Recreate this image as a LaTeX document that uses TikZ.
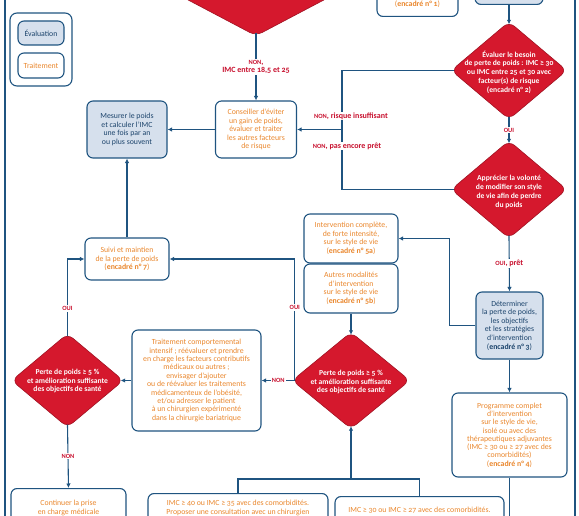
\documentclass[tikz,border=0pt]{standalone}
\usepackage{fontspec}
\setmainfont{Carlito}[Numbers=OldStyle]
\usetikzlibrary{arrows.meta, shapes.geometric}

\definecolor{ligne}{RGB}{31,84,128}
\definecolor{fondbleu}{RGB}{214,224,237}
\definecolor{rougedia}{RGB}{213,24,45}
\definecolor{orangetxt}{RGB}{234,135,45}
\definecolor{rougelbl}{RGB}{200,16,46}
\definecolor{bleutxt}{RGB}{28,68,108}

\newcommand{\petcap}[1]{{\fontsize{6.4}{7}\selectfont #1}}

\begin{document}
\begin{tikzpicture}[x=1pt, y=-1pt, >={Latex[length=4.5pt, width=4.5pt]},
  every node/.style={font=\fontsize{7.8}{8.6}\selectfont, align=center},
  boite/.style={draw=ligne, line width=1.1pt, rounded corners=6pt, inner sep=3pt},
  evalbox/.style={boite, fill=fondbleu, text=bleutxt},
  traitbox/.style={boite, fill=white, text=orangetxt},
  decision/.style={diamond, draw=rougedia!75!black, line width=0.6pt, fill=rougedia,
    rounded corners=7pt, inner sep=0pt, outer sep=-1.8pt},
  dectext/.style={text=white, font=\fontsize{7.6}{8.8}\selectfont\bfseries},
  lbl/.style={text=rougelbl, fill=white, inner sep=1pt, font=\fontsize{8}{8.6}\selectfont\bfseries},
  fleche/.style={draw=ligne, line width=1.1pt}]
  \useasboundingbox (0,0) rectangle (579,516);
  \clip (0,0) rectangle (579,516);

  % cadre
  \draw[fleche] (5,-5) -- (5,525);
  \draw[fleche] (575,-5) -- (575,525);

  % legende
  \node[draw=ligne, line width=1.1pt, rounded corners=7pt, minimum width=62pt, minimum height=73pt] (legende) at (41,49.5) {};
  \node[evalbox, minimum width=46pt, minimum height=24pt] (leg-eval) at (41,33) {Évaluation};
  \node[traitbox, minimum width=46pt, minimum height=25pt] (leg-trait) at (41,65.5) {Traitement};

  % haut (coupe)
  \node[decision, minimum width=210pt, minimum height=110pt] (imc) at (256,-20) {};
  \node[traitbox, anchor=south, minimum width=81pt, text height=30pt, text depth=7pt] (encadre1) at (417.5,17) {(\textbf{encadré n° 1})};
  \node[evalbox, anchor=south, minimum width=68pt, minimum height=30pt] (evalhaut) at (509,5) {};

  % colonne de droite
  \node[decision, minimum width=114pt, minimum height=96pt] (besoin) at (509,70.5) {};
  \node[dectext] (besoin-t) at (509,72) {Évaluer le besoin\\de perte de poids : IMC ≥ 30\\ou IMC entre 25 et 30 avec\\facteur(s) de risque\\(encadré n° 2)};
  \node[decision, minimum width=114pt, minimum height=96pt] (apprec) at (509,189.5) {};
  \node[dectext] (apprec-t) at (509,192) {Apprécier la volonté\\de modifier son style\\de vie afin de perdre\\du poids};
  \node[evalbox, minimum width=67pt, minimum height=67pt] (determ) at (509.5,325.5) {Déterminer\\la perte de poids,\\les objectifs\\et les stratégies\\d’intervention\\(\textbf{encadré n° 3})};
  \node[traitbox, minimum width=115pt, minimum height=84pt, font=\fontsize{7.8}{8.3}\selectfont] (programme) at (509.5,435) {Programme complet\\d’intervention\\sur le style de vie,\\isolé ou avec des\\thérapeutiques adjuvantes\\(IMC ≥ 30 ou ≥ 27 avec des\\comorbidités)\\(\textbf{encadré n° 4})};

  % milieu
  \node[traitbox, minimum width=81pt, minimum height=57pt] (conseil) at (256,129.5) {Conseiller d’éviter\\un gain de poids,\\évaluer et traiter\\les autres facteurs\\de risque};
  \node[evalbox, minimum width=80pt, minimum height=57pt] (mesure) at (127,129.5) {Mesurer le poids\\et calculer l’IMC\\une fois par an\\ou plus souvent};
  \node[traitbox, minimum width=84pt, minimum height=42pt] (suivi) at (127,259) {Suivi et maintien\\de la perte de poids\\(\textbf{encadré n° 7})};
  \node[traitbox, minimum width=94pt, minimum height=49pt] (int5a) at (351,238.5) {Intervention complète,\\de forte intensité,\\sur le style de vie\\(\textbf{encadré n° 5a})};
  \node[traitbox, minimum width=94pt, minimum height=49pt] (int5b) at (351,288.5) {Autres modalités\\d’intervention\\sur le style de vie\\(\textbf{encadré n° 5b})};
  \node[decision, minimum width=116pt, minimum height=95pt] (perte2) at (351,380.5) {};
  \node[dectext] (perte2-t) at (351,382) {Perte de poids ≥ 5 \%\\et amélioration suffisante\\des objectifs de santé};
  \node[traitbox, minimum width=129pt, minimum height=101pt, font=\fontsize{7.8}{8.4}\selectfont] (traitcomp) at (196.5,380.5) {Traitement comportemental\\intensif ; réévaluer et prendre\\en charge les facteurs contributifs\\médicaux ou autres ;\\envisager d’ajouter\\ou de réévaluer les traitements\\médicamenteux de l’obésité,\\et/ou adresser le patient\\à un chirurgien expérimenté\\dans la chirurgie bariatrique};
  \node[decision, minimum width=110pt, minimum height=92pt] (perte1) at (67.5,380.5) {};
  \node[dectext] (perte1-t) at (67.5,381) {Perte de poids ≥ 5 \%\\et amélioration suffisante\\des objectifs de santé};

  % bas (coupe)
  \node[traitbox, anchor=north, minimum width=115pt, text height=23pt, text depth=40pt] (continuer) at (68.5,488) {Continuer la prise\\en charge médicale};
  \node[traitbox, anchor=north, minimum width=180pt, text height=18pt, text depth=40pt] (bas1) at (238,493) {IMC ≥ 40 ou IMC ≥ 35 avec des comorbidités.\\Proposer une consultation avec un chirurgien};
  \node[traitbox, anchor=north, minimum width=169pt, text height=12.5pt, text depth=40pt] (bas2) at (419.5,496) {IMC ≥ 30 ou IMC ≥ 27 avec des comorbidités.};

  \coordinate (jct) at (342,129.5);
  \coordinate (jct-bas) at (351,479);
  \coordinate (prog-bas) at (509.5,530);

  % fleches
  \draw[fleche, ->] (evalhaut.south) -- (besoin.north);
  \draw[fleche, ->] (imc.south) -- node[lbl] {\petcap{NON},\\IMC entre 18,5 et 25} (conseil.north);
  \draw[fleche, ->] (besoin.south) -- node[lbl] {\petcap{OUI}} (apprec.north);
  \draw[fleche, ->] (apprec.south) -- node[lbl] {\petcap{OUI}, prêt} (determ.north);
  \draw[fleche, ->] (determ.south) -- (programme.north);
  \draw[fleche] (programme.south) -- (prog-bas);
  \draw[fleche, ->] (besoin.west) -| (jct) -- (conseil.east);
  \draw[fleche] (apprec.west) -| (jct);
  \draw[fleche, ->] (conseil.west) -- (mesure.east);
  \draw[fleche, ->] (suivi.north) -- (mesure.south);
  \draw[fleche, ->] (determ.west) -- ++(-26,0) |- (int5a.east);
  \draw[fleche, ->] (int5b.south) -- (perte2.north);
  \draw[fleche, ->] (perte2.west) |- node[lbl, pos=0.3] {\petcap{OUI}} (suivi.east);
  \draw[fleche, ->] (perte2.west) -- node[lbl] {\petcap{NON}} (traitcomp.east);
  \draw[fleche, ->] (traitcomp.west) -- (perte1.east);
  \draw[fleche, ->] (perte1.north) |- node[lbl, pos=0.18] {\petcap{OUI}} (suivi.west);
  \draw[fleche, ->] (perte1.south) -- node[lbl] {\petcap{NON}} (continuer.north);
  \draw[fleche, ->] (jct-bas) -- (perte2.south);
  \draw[fleche] (bas1.north) |- (jct-bas) -| (bas2.north);
  \node[lbl] (non-risque) at (351,116) {\petcap{NON}, risque insuffisant};
  \node[lbl] (non-pret) at (347,146) {\petcap{NON}, pas encore prêt};
\end{tikzpicture}
\end{document}
